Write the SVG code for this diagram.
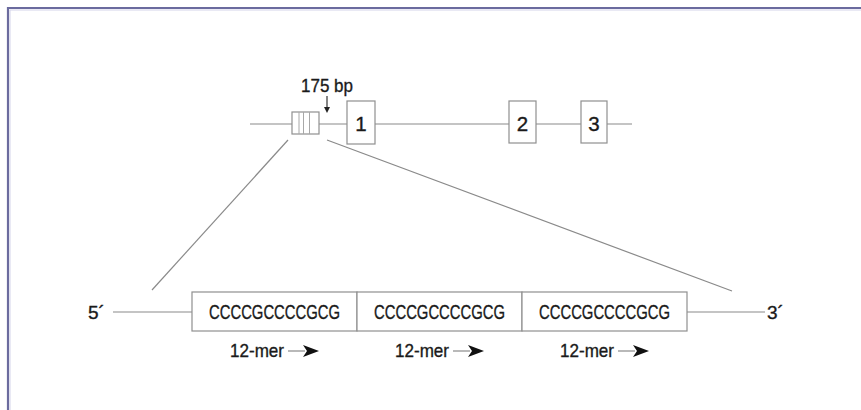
<svg xmlns="http://www.w3.org/2000/svg" width="861" height="410" viewBox="0 0 861 410">
  <style>
    .ln { stroke: #8a8a8a; stroke-width: 1.2; fill: none; }
    .bx { stroke: #8f8f8f; stroke-width: 1.2; fill: #ffffff; }
    .div { stroke: #a8a8a8; stroke-width: 1; }
    .t { font-family: "Liberation Sans", Arial, sans-serif; font-size: 19px; fill: #1a1a1a; stroke: #1a1a1a; stroke-width: 0.35; }
    .big { font-size: 20.5px; }
    .mid { text-anchor: middle; }
  </style>
  <defs>
    <!-- notched dart used after each 12-mer label -->
    <path id="dart" d="M0,-6 L16,0 L0,6 L4,0 Z" fill="#111111"/>
  </defs>

  <rect width="861" height="410" fill="#ffffff"/>

  <!-- frame (top and left edges) -->
  <g id="frame">
    <path d="M8,410 V8 H861" fill="none" stroke="#6b6b9e" stroke-width="2.2"/>
    <path d="M10,410 V10 H861" fill="none" stroke="#d4d4ea" stroke-width="1"/>
  </g>

  <!-- connectors: gene backbone, zoom guide lines, flanking DNA -->
  <g id="connectors">
    <line class="ln" x1="250" y1="124" x2="632" y2="124"/>
    <line class="ln" x1="288" y1="140" x2="152" y2="290"/>
    <line class="ln" x1="327" y1="140" x2="732" y2="291"/>
    <line class="ln" x1="113" y1="312" x2="192" y2="312"/>
    <line class="ln" x1="687" y1="312" x2="765" y2="312"/>
    <line x1="327" y1="96" x2="327" y2="108" stroke="#333" stroke-width="1.2"/>
    <path d="M324,107 L330,107 L327,113 Z" fill="#222"/>
  </g>

  <!-- promoter repeat block -->
  <g id="promoter">
    <rect class="bx" x="292" y="112" width="27" height="22"/>
    <line class="div" x1="299" y1="112" x2="299" y2="134"/>
    <line class="div" x1="303.5" y1="112" x2="303.5" y2="134"/>
    <line class="div" x1="309.5" y1="112" x2="309.5" y2="134"/>
  </g>
  <g id="label-175">
    <text class="t" x="301" y="92" textLength="52" lengthAdjust="spacingAndGlyphs">175 bp</text>
  </g>

  <!-- exons -->
  <g id="exon1">
    <rect class="bx" x="347" y="101" width="28" height="43"/>
    <text class="t big mid" x="361" y="130.5">1</text>
  </g>
  <g id="exon2">
    <rect class="bx" x="509" y="101" width="27" height="42"/>
    <text class="t big mid" x="522.5" y="130.5">2</text>
  </g>
  <g id="exon3">
    <rect class="bx" x="581" y="101" width="26" height="42"/>
    <text class="t big mid" x="594" y="130.5">3</text>
  </g>

  <!-- expanded repeat region -->
  <g id="end5">
    <text class="t" x="88" y="318.5">5´</text>
  </g>
  <g id="end3">
    <text class="t" x="767" y="318.5">3´</text>
  </g>

  <g id="repeat1">
    <rect class="bx" x="192" y="292" width="165" height="39"/>
    <text class="t big" x="209" y="319" textLength="131" lengthAdjust="spacingAndGlyphs">CCCCGCCCCGCG</text>
  </g>
  <g id="repeat2">
    <rect class="bx" x="357" y="292" width="165" height="39"/>
    <text class="t big" x="374" y="319" textLength="131" lengthAdjust="spacingAndGlyphs">CCCCGCCCCGCG</text>
  </g>
  <g id="repeat3">
    <rect class="bx" x="522" y="292" width="165" height="39"/>
    <text class="t big" x="539" y="319" textLength="131" lengthAdjust="spacingAndGlyphs">CCCCGCCCCGCG</text>
  </g>

  <!-- 12-mer direction labels -->
  <g id="mer1">
    <text class="t" x="230" y="357" textLength="54" lengthAdjust="spacingAndGlyphs">12-mer</text>
    <line class="ln" x1="288" y1="351" x2="305" y2="351"/>
    <use href="#dart" x="303" y="351"/>
  </g>
  <g id="mer2">
    <text class="t" x="395" y="357" textLength="54" lengthAdjust="spacingAndGlyphs">12-mer</text>
    <line class="ln" x1="453" y1="351" x2="470" y2="351"/>
    <use href="#dart" x="468" y="351"/>
  </g>
  <g id="mer3">
    <text class="t" x="560" y="357" textLength="54" lengthAdjust="spacingAndGlyphs">12-mer</text>
    <line class="ln" x1="618" y1="351" x2="635" y2="351"/>
    <use href="#dart" x="633" y="351"/>
  </g>
</svg>
